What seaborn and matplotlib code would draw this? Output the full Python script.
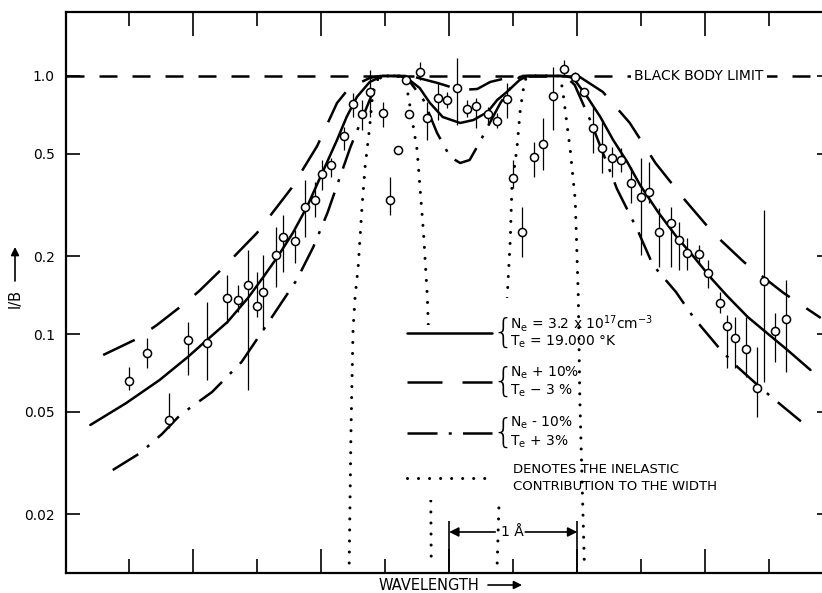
import matplotlib
matplotlib.use("Agg")
import matplotlib.pyplot as plt
import seaborn as sns
from matplotlib.patches import Rectangle
from matplotlib.lines import Line2D
from matplotlib.ticker import FixedLocator, NullFormatter, NullLocator

# measured points: wavelength offset (angstrom) and I/B with error bar ends
wl_pts = [-2.50, -2.36, -2.19, -2.04, -1.89, -1.73, -1.65, -1.57, -1.50, -1.45,
          -1.35, -1.30, -1.20, -1.125, -1.05, -0.99, -0.92, -0.82, -0.75, -0.68,
          -0.62, -0.52, -0.46, -0.40, -0.34, -0.31, -0.23, -0.17, -0.09, -0.02,
          0.06, 0.14, 0.21, 0.30, 0.37, 0.45, 0.50, 0.57, 0.66, 0.73,
          0.81, 0.90, 0.98, 1.05, 1.12, 1.19, 1.27, 1.34, 1.42, 1.50,
          1.56, 1.64, 1.73, 1.79, 1.86, 1.95, 2.02, 2.11, 2.17, 2.23,
          2.32, 2.40, 2.46, 2.54, 2.63]
ib_pts = [0.0657, 0.0844, 0.0464, 0.0948, 0.0923, 0.1379, 0.1354, 0.1548, 0.1284, 0.1455,
          0.2024, 0.2377, 0.2293, 0.3107, 0.3306, 0.4170, 0.4519, 0.5854, 0.7789, 0.7124,
          0.8669, 0.7188, 0.3306, 0.5167, 0.965, 0.7124, 1.036, 0.6874, 0.8217, 0.8072,
          0.8984, 0.7449, 0.7651, 0.7124, 0.6692, 0.8144, 0.4024, 0.2485, 0.4853, 0.5451,
          0.8365, 1.064, 0.991, 0.8669, 0.6287, 0.5259, 0.4810, 0.4725, 0.3848, 0.3396,
          0.3551, 0.2485, 0.2693, 0.2314, 0.2060, 0.2042, 0.1723, 0.1319, 0.1074, 0.0965,
          0.0875, 0.0618, 0.1605, 0.1027, 0.1143]
err_hi = [0.0745, 0.0965, 0.0591, 0.1113, 0.1331, 0.1693, 0.1548, 0.2116, 0.1739, 0.2024,
          0.2599, 0.2892, 0.2530, 0.3953, 0.3883, 0.4725, 0.4810, 0.6344, 0.8592, 0.8072,
          1.055, 0.7929, 0.4060, 0.5167, 0.965, 0.7124, 1.133, 0.7929, 0.9394, 0.8669,
          1.174, 0.8072, 0.8217, 0.7583, 0.7188, 0.9394, 0.4725, 0.3107, 0.5549, 0.6874,
          1.084, 1.154, 1.036, 0.8669, 0.7583, 0.6633, 0.5307, 0.5259, 0.4439, 0.4810,
          0.4642, 0.3079, 0.3107, 0.2717, 0.2356, 0.2213, 0.1936, 0.1455, 0.1185, 0.1164,
          0.1164, 0.0891, 0.3024, 0.1206, 0.1619]
err_lo = [0.0607, 0.0738, 0.0432, 0.0694, 0.0663, 0.1103, 0.1217, 0.0607, 0.1164, 0.1036,
          0.1521, 0.1739, 0.1885, 0.2377, 0.2841, 0.3615, 0.4060, 0.5167, 0.6935, 0.6176,
          0.6935, 0.6344, 0.2892, 0.5167, 0.965, 0.7124, 0.965, 0.5648, 0.6752, 0.7516,
          0.6457, 0.6935, 0.6287, 0.6457, 0.6287, 0.6874, 0.3680, 0.1988, 0.4060, 0.4322,
          0.6176, 0.9911, 0.9479, 0.8669, 0.5030, 0.4208, 0.4060, 0.4245, 0.3219, 0.2024,
          0.3219, 0.1819, 0.1819, 0.1770, 0.1770, 0.1885, 0.1508, 0.1206, 0.0738, 0.0738,
          0.0681, 0.0477, 0.0651, 0.0779, 0.0712]

# computed profiles
solid_x = [-2.80, -2.52, -2.26, -2.04, -1.89, -1.73, -1.57, -1.45, -1.34, -1.22,
           -1.11, -0.98, -0.875, -0.80, -0.72, -0.62, -0.52, -0.38, -0.33, -0.23,
           -0.15, -0.05, 0.086, 0.19, 0.30, 0.375, 0.45, 0.55, 0.61,
           0.906, 0.969, 1.078, 1.18, 1.28, 1.39, 1.49, 1.63, 1.77, 1.91,
           2.05, 2.17, 2.33, 2.48, 2.64, 2.82]
solid_y = [0.0444, 0.0540, 0.0663, 0.0814, 0.0948, 0.1113, 0.1379, 0.1663, 0.1988, 0.2463,
           0.3107, 0.4322, 0.5648, 0.6935, 0.8291, 0.9479, 1.0, 1.0, 0.9823, 0.8984,
           0.7859, 0.6935, 0.6574, 0.6752, 0.7252, 0.8072, 0.8669, 0.965, 1.0,
           1.0, 0.982, 0.829, 0.6935, 0.5648, 0.4642, 0.378, 0.2971, 0.2398, 0.1988,
           0.1634, 0.1404, 0.1164, 0.1009, 0.0867, 0.0725]

plus_x = [-2.70, -2.44, -2.28, -2.08, -1.95, -1.75, -1.50, -1.38, -1.23, -1.03,
          -0.875, -0.78, -0.62, -0.54, -0.30, -0.09, 0.086, 0.22, 0.32, 0.48, 0.55,
          0.945, 1.02, 1.20, 1.41, 1.61, 1.84, 2.06, 2.30, 2.61, 2.90]
plus_y = [0.0829, 0.0956, 0.1084, 0.1295, 0.1468, 0.1835, 0.2463, 0.2944, 0.3680, 0.5354,
          0.7859, 0.8984, 0.9823, 1.0, 1.0, 0.9394, 0.8826, 0.8904, 0.9479, 0.9911, 1.0,
          1.0, 0.9911, 0.8669, 0.6574, 0.4600, 0.3306, 0.2463, 0.1901, 0.1442, 0.1154]

minus_x = [-2.625, -2.41, -2.24, -2.10, -1.85, -1.62, -1.44, -1.19, -1.06, -0.95,
           -0.77, -0.62, -0.54, -0.46, -0.34, -0.20, -0.094, 0.008, 0.086, 0.16,
           0.24, 0.30, 0.40, 0.50, 0.55, 0.59, 0.906, 0.98, 1.10, 1.31,
           1.47, 1.59, 1.77, 1.91, 2.12, 2.25, 2.45, 2.61, 2.78]
minus_y = [0.0297, 0.0346, 0.0410, 0.0485, 0.0596, 0.0779, 0.1055, 0.1619, 0.2174, 0.2944,
           0.5307, 0.8072, 0.9823, 1.0, 1.0, 0.8072, 0.6013, 0.4853, 0.4600, 0.4725,
           0.5549, 0.6344, 0.7859, 0.9311, 0.9911, 1.0, 1.0, 0.9228, 0.6752, 0.3648,
           0.2530, 0.1851, 0.1455, 0.1154, 0.0867, 0.0745, 0.0607, 0.0521, 0.0444]

# inelastic contribution (two dotted profiles)
inel1_x = [-0.78, -0.766, -0.75, -0.734, -0.71, -0.68, -0.656, -0.62, -0.594, -0.555,
           -0.50, -0.38, -0.344, -0.32, -0.25, -0.20, -0.17, -0.164, -0.148, -0.14]
inel1_y = [0.01295, 0.0424, 0.1036, 0.1391, 0.1819, 0.3107, 0.4439, 0.6344, 0.8826, 0.9736,
           1.0, 1.0, 0.965, 0.8440, 0.5167, 0.2463, 0.1391, 0.1133, 0.0464, 0.01367]
inel2_x = [0.375, 0.39, 0.453, 0.477, 0.49, 0.53, 0.555, 0.59, 0.63, 0.85,
           0.883, 0.945, 0.984, 1.008, 1.02, 1.055]
inel2_y = [0.01295, 0.0227, 0.1391, 0.2314, 0.3713, 0.5307, 0.7383, 0.965, 1.0, 1.0,
           0.9065, 0.5167, 0.3306, 0.1391, 0.0555, 0.01295]

black_body = 1.0
scale_bar = [0.0, 1.0]   # 1 angstrom
ytick_vals = [0.02, 0.05, 0.1, 0.2, 0.5, 1.0]
ytick_labels = ["0.02", "0.05", "0.1", "0.2", "0.5", "1.0"]

sns.set_style("ticks")
plt.rcParams["font.family"] = ["DejaVu Sans"]
plt.rcParams["mathtext.default"] = "regular"
for key in ["text.color", "axes.labelcolor", "xtick.color", "ytick.color", "axes.edgecolor"]:
    plt.rcParams[key] = "black"

fig = plt.figure(figsize=(8.22, 5.93), dpi=100)
ax = fig.add_axes([66 / 822, 20 / 593, 765 / 822, 561 / 593])
ax.set_yscale("log")

LW = 1.8
dashed = (0, (14, 8))
dashdot = (0, (12, 4.5, 1.2, 4.5))
dotted = (0, (0.01, 3.6))

common = dict(ax=ax, color="k", sort=False, estimator=None, errorbar=None, legend=False)
sns.lineplot(x=solid_x, y=solid_y, lw=LW, zorder=2, **common)
sns.lineplot(x=plus_x, y=plus_y, lw=LW, linestyle=dashed, zorder=2, **common)
sns.lineplot(x=minus_x, y=minus_y, lw=LW, linestyle=dashdot, zorder=2, **common)
for xs, ys in [(inel1_x, inel1_y), (inel2_x, inel2_y)]:
    sns.lineplot(x=xs, y=ys, lw=2.2, linestyle=dotted, dash_capstyle="round", zorder=2, **common)

ax.axhline(black_body, color="k", lw=LW, linestyle=(0, (7.2, 6.0)), zorder=1)
ax.text(1.95, black_body, "BLACK BODY LIMIT", ha="center", va="center", fontsize=10,
        bbox=dict(fc="white", ec="none", pad=2.5), zorder=3)

# data with error bars
ax.vlines(wl_pts, err_lo, err_hi, color="k", lw=0.9, zorder=3)
sns.scatterplot(x=wl_pts, y=ib_pts, ax=ax, marker="o", s=34, facecolor="white",
                edgecolor="k", linewidth=1.1, zorder=4, legend=False)

ax.set_xlim(-2.99, 2.98)
ax.set_ylim(0.01185, 1.77)

# legend block drawn by hand, white patch hides the dotted curves behind it
ax.add_patch(Rectangle((0.4366, 0.130), 0.2092, 0.312, transform=ax.transAxes,
                       fc="white", ec="none", zorder=3))
ax.add_patch(Rectangle((0.554, 0.44), 0.092, 0.05, transform=ax.transAxes,
                       fc="white", ec="none", zorder=3))
keys = [
    (0.428, "-", dict(), [r"N$_e$ = 3.2 x 10$^{17}$cm$^{-3}$", r"T$_e$ = 19.000 °K"]),
    (0.340, dashed, dict(), [r"N$_e$ + 10%", r"T$_e$ − 3 %"]),
    (0.250, dashdot, dict(), [r"N$_e$ - 10%", r"T$_e$ + 3%"]),
    (0.169, dotted, dict(dash_capstyle="round"), ["DENOTES THE INELASTIC", "CONTRIBUTION TO THE WIDTH"]),
]
for ky, ls, extra, lines in keys:
    lw = 2.2 if ls is dotted else LW
    ax.add_line(Line2D([0.446, 0.557], [ky, ky], transform=ax.transAxes, color="k",
                       lw=lw, linestyle=ls, zorder=5, **extra))
    if ls is dotted:
        ax.text(0.5843, ky + 0.015, lines[0], transform=ax.transAxes, fontsize=9.5,
                va="center", zorder=5)
        ax.text(0.5843, ky - 0.014, lines[1], transform=ax.transAxes, fontsize=9.5,
                va="center", zorder=5)
    else:
        ax.text(0.571, ky, "{", transform=ax.transAxes, fontsize=24, ha="center",
                va="center", fontweight="light", zorder=5)
        ax.text(0.5804, ky + 0.017, lines[0], transform=ax.transAxes, fontsize=10,
                va="center", zorder=5)
        ax.text(0.5804, ky - 0.016, lines[1], transform=ax.transAxes, fontsize=10,
                va="center", zorder=5)

# 1 angstrom scale bar
xt = ax.get_xaxis_transform()
ax.vlines(scale_bar, 0, 0.0927, transform=xt, color="k", lw=1.2, zorder=5)
arrow_kw = dict(arrowstyle="-|>", color="k", lw=1.2, mutation_scale=14, shrinkA=0, shrinkB=0)
ax.annotate("", xy=(scale_bar[0], 0.0731), xytext=(0.36, 0.0731), xycoords=xt, arrowprops=arrow_kw)
ax.annotate("", xy=(scale_bar[1], 0.0731), xytext=(0.594, 0.0731), xycoords=xt, arrowprops=arrow_kw)
ax.text(0.49, 0.0731, "1 Å", transform=xt, ha="center", va="center", fontsize=10)

# ticks and frame
ax.xaxis.set_major_locator(FixedLocator([-2, -1, 0, 1, 2]))
ax.xaxis.set_minor_locator(FixedLocator([-2.5, -1.5, -0.5, 0.5, 1.5, 2.5]))
ax.xaxis.set_major_formatter(NullFormatter())
ax.tick_params(axis="x", which="major", direction="in", length=17, width=1.2, top=True, bottom=True)
ax.tick_params(axis="x", which="minor", direction="in", length=10, width=1.2, top=True, bottom=True)
ax.yaxis.set_major_locator(FixedLocator(ytick_vals))
ax.yaxis.set_minor_locator(NullLocator())
ax.set_yticklabels(ytick_labels)
ax.tick_params(axis="y", which="major", direction="in", length=10, width=1.2,
               left=True, right=True, labelsize=10, pad=8)
for sp in ax.spines.values():
    sp.set_linewidth(1.6)
    sp.set_visible(True)

# axis titles with arrows
fig.text(429 / 822, 1 - 585 / 593, "WAVELENGTH", ha="center", va="center", fontsize=10.5)
ax.annotate("", xy=(522 / 822, 1 - 585 / 593), xytext=(488 / 822, 1 - 585 / 593),
            xycoords="figure fraction", arrowprops=dict(arrowstyle="-|>", color="k", lw=1.2,
                                                        mutation_scale=12, shrinkA=0, shrinkB=0))
fig.text(15 / 822, 1 - 299 / 593, "I/B", rotation=90, ha="center", va="center", fontsize=10.5)
ax.annotate("", xy=(15 / 822, 1 - 247 / 593), xytext=(15 / 822, 1 - 281 / 593),
            xycoords="figure fraction", arrowprops=dict(arrowstyle="-|>", color="k", lw=1.2,
                                                        mutation_scale=12, shrinkA=0, shrinkB=0))

fig.savefig("out.png", dpi=100)
